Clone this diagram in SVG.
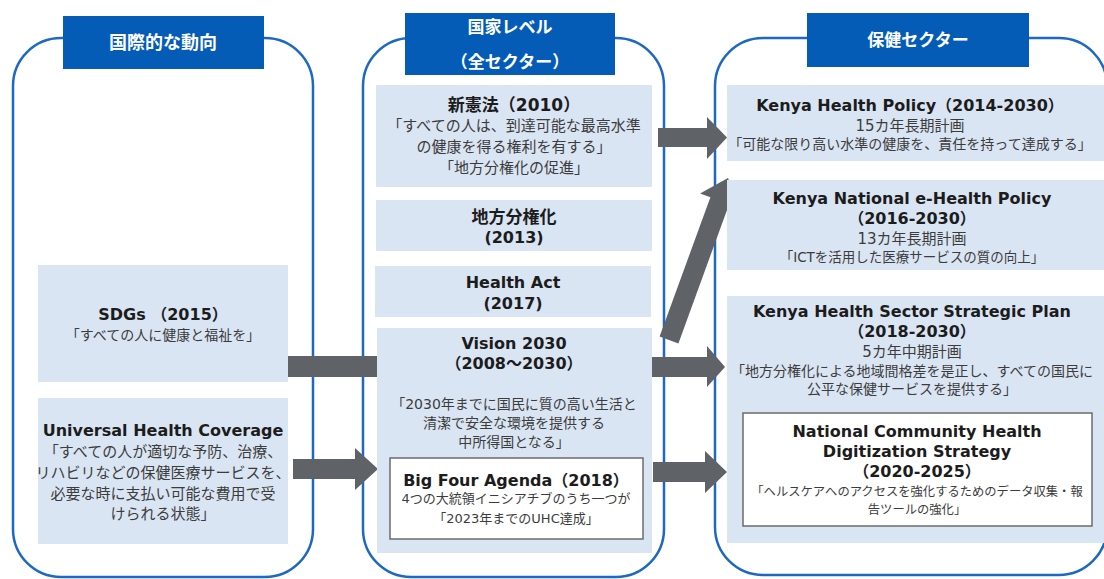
<svg xmlns="http://www.w3.org/2000/svg" width="1104" height="579" viewBox="0 0 1104 579">
<style>
.cont{fill:#ffffff;stroke:#1c68c2;stroke-width:2.5}
.hdr{fill:#055cb6}
.ht{font-family:"Noto Sans CJK JP",sans-serif;font-weight:bold;font-size:17px;fill:#ffffff;text-anchor:middle}
.box{fill:#dae5f4}
.wbox{fill:#ffffff;stroke:#6b6b6b;stroke-width:1.5}
.t{font-family:"DejaVu Sans","Noto Sans CJK JP",sans-serif;font-weight:bold;font-size:16px;fill:#1c1c1c;text-anchor:middle}
.b{font-family:"DejaVu Sans","Noto Sans CJK JP",sans-serif;font-size:14px;fill:#3c3c3c;text-anchor:middle}
.arr{fill:#5f6266}
</style>
<g id="containers">
<rect class="cont" x="13" y="38" width="300" height="539" rx="48"/>
<rect class="cont" x="363" y="38" width="301" height="539" rx="48"/>
<rect class="cont" x="715" y="38" width="392" height="537" rx="48"/>
</g>
<g id="hdr-intl"><rect class="hdr" x="63" y="16" width="201" height="53"/><text class="ht" x="163" y="49" style="font-size:18px">国際的な動向</text></g>
<g id="hdr-national"><rect class="hdr" x="405" y="13" width="210" height="62"/><text class="ht" x="510" y="33">国家レベル</text><text class="ht" x="510" y="68">（全セクター）</text></g>
<g id="hdr-health"><rect class="hdr" x="807" y="13" width="222" height="54"/><text class="ht" x="918" y="46">保健セクター</text></g>
<g id="connectors">
<polygon class="arr" points="658,128 707,128 707,117 727,137.5 707,159 707,147 658,147"/>
<polygon class="arr" points="652,357 707,357 707,346 725,367 707,387 707,377 652,377"/>
<polygon class="arr" points="653,462 705,462 705,451 727,472 705,493 705,482 653,482"/>
<polygon class="arr" points="288,356 377,356 377,377 288,377"/>
<polygon class="arr" points="293,459 355,459 355,448 378,469 355,490 355,479 293,479"/>
<polygon class="arr" points="659.6,336.6 710.4,197.2 700.1,193.4 728,178 739.5,207.8 729.2,204 678.4,343.4"/>
</g>
<g id="sdgs"><rect class="box" x="38" y="265" width="250" height="117"/>
<text class="t" x="163" y="320">SDGs （2015）</text>
<text class="b" x="163" y="340">「すべての人に健康と福祉を」</text></g>
<g id="uhc"><rect class="box" x="38" y="398" width="250" height="146"/>
<text class="t" x="163" y="436">Universal Health Coverage</text>
<text class="b" x="163" y="457" style="font-size:15px">「すべての人が適切な予防、治療、</text>
<text class="b" x="163" y="478" style="font-size:15px">リハビリなどの保健医療サービスを、</text>
<text class="b" x="163" y="499" style="font-size:15px">必要な時に支払い可能な費用で受</text>
<text class="b" x="163" y="519" style="font-size:15px">けられる状態」</text></g>
<g id="constitution"><rect class="box" x="376" y="85" width="276" height="102"/>
<text class="t" x="514" y="111" style="font-size:17px">新憲法（2010）</text>
<text class="b" x="514" y="131" style="font-size:15px">「すべての人は、到達可能な最高水準</text>
<text class="b" x="514" y="152" style="font-size:15px">の健康を得る権利を有する」</text>
<text class="b" x="514" y="173" style="font-size:15px">「地方分権化の促進」</text></g>
<g id="devolution"><rect class="box" x="376" y="200" width="276" height="51"/>
<text class="t" x="514" y="223" style="font-size:17px">地方分権化</text>
<text class="t" x="514" y="243">(2013)</text></g>
<g id="healthact"><rect class="box" x="375" y="266" width="276" height="51"/>
<text class="t" x="513" y="288">Health Act</text>
<text class="t" x="513" y="309">(2017)</text></g>
<g id="vision2030"><rect class="box" x="377" y="328" width="275" height="225"/>
<text class="t" x="514" y="349">Vision 2030</text>
<text class="t" x="514" y="369">（2008～2030）</text>
<text class="b" x="514" y="409">「2030年までに国民に質の高い生活と</text>
<text class="b" x="514" y="428">清潔で安全な環境を提供する</text>
<text class="b" x="514" y="447">中所得国となる」</text></g>
<g id="bigfour"><rect class="wbox" x="390" y="458" width="253" height="81"/>
<text class="t" x="516" y="486">Big Four Agenda（2018）</text>
<text class="b" x="516" y="503" style="font-size:13px">4つの大統領イニシアチブのうち一つが</text>
<text class="b" x="516" y="523" style="font-size:13px">「2023年までのUHC達成」</text></g>
<g id="khp"><rect class="box" x="727" y="85" width="380" height="76"/>
<text class="t" x="910" y="111">Kenya Health Policy（2014-2030）</text>
<text class="b" x="910" y="131" style="font-size:15px">15カ年長期計画</text>
<text class="b" x="910" y="149">「可能な限り高い水準の健康を、責任を持って達成する」</text></g>
<g id="ehealth"><rect class="box" x="727" y="180" width="380" height="90"/>
<text class="t" x="912" y="204">Kenya National e-Health Policy</text>
<text class="t" x="912" y="224">（2016-2030）</text>
<text class="b" x="912" y="244" style="font-size:15px">13カ年長期計画</text>
<text class="b" x="912" y="262" style="font-size:13.5px">「ICTを活用した医療サービスの質の向上」</text></g>
<g id="khssp"><rect class="box" x="727" y="296" width="380" height="247"/>
<text class="t" x="912" y="317">Kenya Health Sector Strategic Plan</text>
<text class="t" x="912" y="337">（2018-2030）</text>
<text class="b" x="912" y="357" style="font-size:15px">5カ年中期計画</text>
<text class="b" x="912" y="376">「地方分権化による地域間格差を是正し、すべての国民に</text>
<text class="b" x="912" y="394">公平な保健サービスを提供する」</text></g>
<g id="nchds"><rect class="wbox" x="743" y="413" width="349" height="113"/>
<text class="t" x="917" y="437">National Community Health</text>
<text class="t" x="917" y="457">Digitization Strategy</text>
<text class="t" x="917" y="477">（2020-2025）</text>
<text class="b" x="917" y="496" style="font-size:12.3px">「ヘルスケアへのアクセスを強化するためのデータ収集・報</text>
<text class="b" x="917" y="514" style="font-size:12.3px">告ツールの強化」</text></g>
</svg>
